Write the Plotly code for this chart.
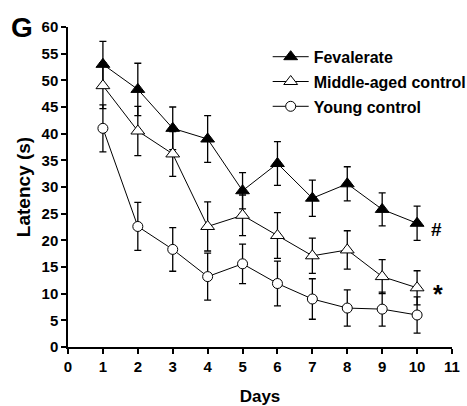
import plotly.graph_objects as go

days = [1, 2, 3, 4, 5, 6, 7, 8, 9, 10]
fev = [53.0, 48.3, 41.0, 39.0, 29.3, 34.4, 27.9, 30.6, 25.8, 23.2]
fev_err = [4.3, 4.9, 4.0, 4.4, 3.4, 4.1, 3.4, 3.2, 3.1, 3.2]
mid = [49.0, 40.5, 36.2, 22.6, 24.7, 20.9, 17.1, 18.2, 13.2, 11.1]
mid_err = [4.3, 4.6, 4.2, 4.6, 3.8, 4.3, 3.3, 3.6, 3.2, 3.2]
young = [41.0, 22.6, 18.3, 13.2, 15.6, 11.9, 9.0, 7.3, 7.1, 6.0]
young_err = [4.4, 4.5, 4.1, 4.4, 3.7, 4.2, 3.8, 3.4, 3.2, 3.4]
names = ["Fevalerate", "Middle-aged control", "Young control"]

FONT = "Arial, Liberation Sans, sans-serif"

fig = go.Figure()
specs = [
    (fev, fev_err, "triangle-up", "black", 12),
    (mid, mid_err, "triangle-up", "white", 12),
    (young, young_err, "circle", "white", 10),
]
for i, (vals, errs, sym, fill, sz) in enumerate(specs):
    fig.add_trace(go.Scatter(
        x=days, y=vals, name=names[i], mode="lines+markers",
        legendgroup=f"g{i}",
        line=dict(color="black", width=1),
        marker=dict(symbol=sym, color=fill, size=sz, line=dict(color="black", width=1)),
        error_y=dict(type="data", array=errs, visible=True, color="black", thickness=1.3, width=3.5),
    ))

fig.add_annotation(x=10.57, y=22.0, text="<b>#</b>", showarrow=False,
                   font=dict(family=FONT, size=19, color="black"), xanchor="center")
fig.add_annotation(x=10.6, y=9.9, text="<b>*</b>", showarrow=False,
                   font=dict(family=FONT, size=25, color="black"), xanchor="center")
fig.add_annotation(x=-0.12, y=1.0, xref="paper", yref="paper", text="<b>G</b>",
                   showarrow=False, font=dict(family=FONT, size=28, color="black"),
                   xanchor="center", yanchor="middle")

fig.update_layout(
    width=467, height=406,
    margin=dict(l=68, r=15, t=27, b=59, autoexpand=False),
    paper_bgcolor="white", plot_bgcolor="white",
    font=dict(family=FONT, color="black"),
    showlegend=True,
    legend=dict(x=0.52, y=0.96, xanchor="left", yanchor="top",
                font=dict(family=FONT, size=16, color="black", weight="bold"),
                bgcolor="rgba(0,0,0,0)", tracegroupgap=1, itemwidth=36),
    xaxis=dict(range=[0, 11], tickmode="array", tickvals=list(range(0, 12)),
               showline=True, linecolor="black", linewidth=1.5, ticks="outside",
               ticklen=5, tickwidth=1.5, tickcolor="black", showgrid=False, zeroline=False,
               tickfont=dict(family=FONT, size=15, color="black", weight="bold"),
               title=dict(text="<b>Days</b>", font=dict(family=FONT, size=17), standoff=20)),
    yaxis=dict(range=[0, 60], tickmode="array", tickvals=list(range(0, 65, 5)),
               showline=True, linecolor="black", linewidth=1.5, ticks="outside",
               ticklen=5, tickwidth=1.5, tickcolor="black", showgrid=False, zeroline=False,
               tickfont=dict(family=FONT, size=15, color="black", weight="bold"),
               title=dict(text="<b>Latency (s)</b>", font=dict(family=FONT, size=19), standoff=6)),
)

fig.write_html("out.html")
